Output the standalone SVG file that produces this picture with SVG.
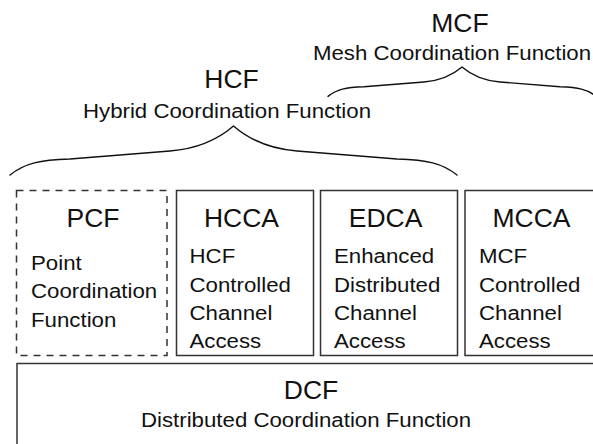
<svg xmlns="http://www.w3.org/2000/svg" width="593" height="444" viewBox="0 0 593 444">
<style>
  .box { fill: #ffffff; stroke: #333333; stroke-width: 1.5; }
  .dash { stroke-dasharray: 7 6; }
  .brace { fill: none; stroke: #111111; stroke-width: 1.4; stroke-linecap: round; stroke-linejoin: round; }
  text { font-family: "Liberation Sans", Arial, Helvetica, sans-serif; fill: #111111; }
  .title { font-size: 25px; text-anchor: middle; }
  .sub { font-size: 21px; text-anchor: middle; }
  .body { font-size: 21px; }
</style>
<rect width="593" height="444" fill="#ffffff"/>

<g id="connectors">
  <path class="brace" d="M10,175 C25,163 40,160 70,159 L170,151 C195,149 215,142 233.5,126 C252,142 272,149 297,151 L397,159 C427,160 442,163 457,175"/>
  <path class="brace" d="M328,96.4 C336.9,89.2 345.9,87.4 363.9,86.8 L423.9,82 C438.9,80.8 450.9,76.6 462,67 C473.1,76.6 485.1,80.8 500.1,82 L560.1,86.8 C578.1,87.4 587.1,89.2 596,96.4"/>
</g>

<g id="hcf">
  <text class="title" transform="matrix(1.06 0 0 1 231.5 88.3)">HCF</text>
  <text class="sub" transform="matrix(1.06 0 0 1 227 118.3)">Hybrid Coordination Function</text>
</g>

<g id="mcf">
  <text class="title" transform="matrix(1.06 0 0 1 460 31.7)">MCF</text>
  <text class="sub" transform="matrix(1.06 0 0 1 452 60)">Mesh Coordination Function</text>
</g>

<g id="pcf">
  <rect class="box dash" x="16.5" y="190.5" width="150.5" height="165"/>
  <text class="title" transform="matrix(1.06 0 0 1 93 226.5)">PCF</text>
  <text class="body" transform="matrix(1.06 0 0 1 31 270)">Point</text>
  <text class="body" transform="matrix(1.06 0 0 1 31 298.3)">Coordination</text>
  <text class="body" transform="matrix(1.06 0 0 1 31 326.7)">Function</text>
</g>

<g id="hcca">
  <rect class="box" x="176.5" y="190.5" width="137" height="165"/>
  <text class="title" transform="matrix(1.06 0 0 1 241.5 226.5)">HCCA</text>
  <text class="body" transform="matrix(1.06 0 0 1 189.5 263.3)">HCF</text>
  <text class="body" transform="matrix(1.06 0 0 1 189.5 291.7)">Controlled</text>
  <text class="body" transform="matrix(1.06 0 0 1 189.5 320)">Channel</text>
  <text class="body" transform="matrix(1.06 0 0 1 189.5 348.3)">Access</text>
</g>

<g id="edca">
  <rect class="box" x="320.5" y="190.5" width="137" height="165"/>
  <text class="title" transform="matrix(1.06 0 0 1 385.5 226.5)">EDCA</text>
  <text class="body" transform="matrix(1.06 0 0 1 334 263.3)">Enhanced</text>
  <text class="body" transform="matrix(1.06 0 0 1 334 291.7)">Distributed</text>
  <text class="body" transform="matrix(1.06 0 0 1 334 320)">Channel</text>
  <text class="body" transform="matrix(1.06 0 0 1 334 348.3)">Access</text>
</g>

<g id="mcca">
  <rect class="box" x="465" y="190.5" width="140" height="165"/>
  <text class="title" transform="matrix(1.06 0 0 1 531.5 226.5)">MCCA</text>
  <text class="body" transform="matrix(1.06 0 0 1 479 263.3)">MCF</text>
  <text class="body" transform="matrix(1.06 0 0 1 479 291.7)">Controlled</text>
  <text class="body" transform="matrix(1.06 0 0 1 479 320)">Channel</text>
  <text class="body" transform="matrix(1.06 0 0 1 479 348.3)">Access</text>
</g>

<g id="dcf">
  <rect class="box" x="17" y="363.5" width="600" height="100"/>
  <text class="title" transform="matrix(1.06 0 0 1 311 399.3)">DCF</text>
  <text class="sub" transform="matrix(1.06 0 0 1 306 426.7)">Distributed Coordination Function</text>
</g>
</svg>
